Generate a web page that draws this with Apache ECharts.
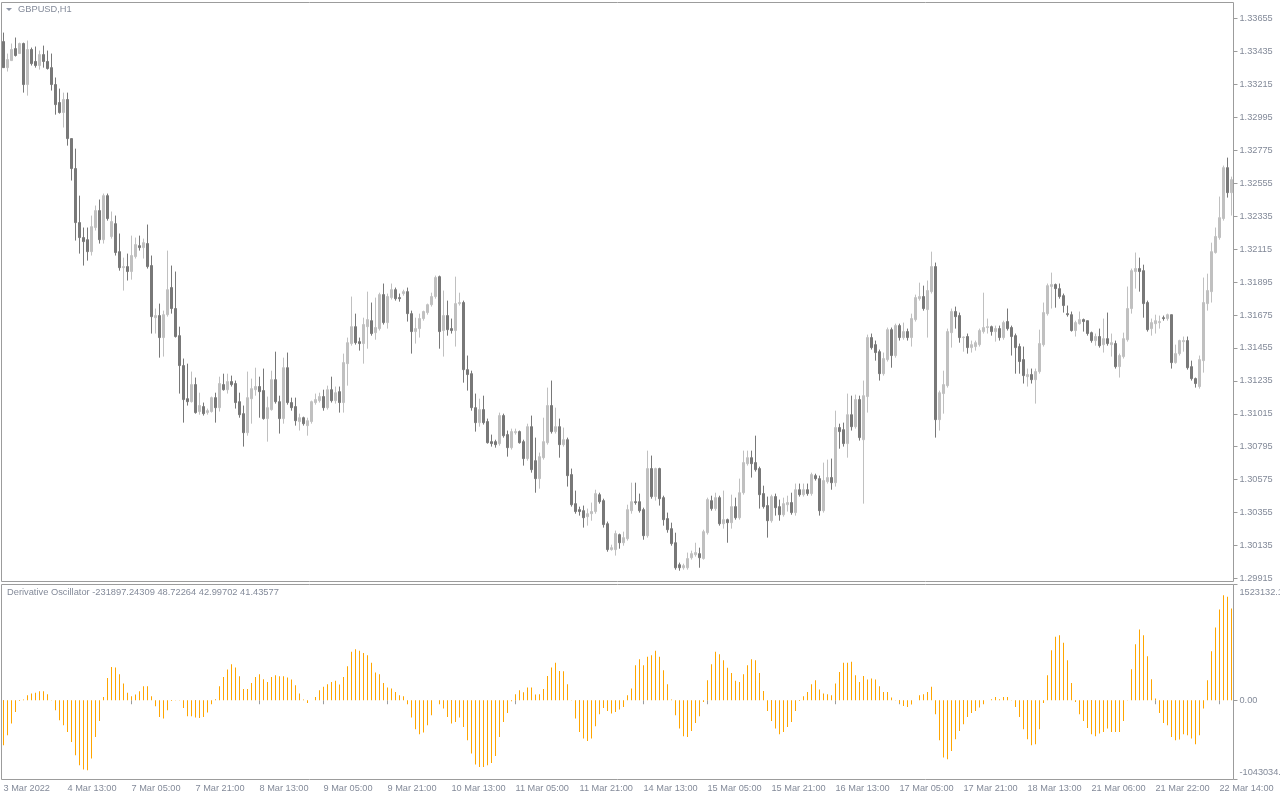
<!DOCTYPE html>
<html><head><meta charset="utf-8">
<script src="https://cdn.jsdelivr.net/npm/echarts@6/dist/echarts.min.js"></script>
<style>html,body{margin:0;padding:0;background:#fff;}#c{width:1280px;height:800px;}</style>
</head><body><div id="c"></div>
<script>
const symbolTitle = 'GBPUSD,H1';
const oscTitle = 'Derivative Oscillator -231897.24309 48.72264 42.99702 41.43577';
const tickLabels = ['3 Mar 2022','4 Mar 13:00','7 Mar 05:00','7 Mar 21:00','8 Mar 13:00','9 Mar 05:00','9 Mar 21:00','10 Mar 13:00','11 Mar 05:00','11 Mar 21:00','14 Mar 13:00','15 Mar 05:00','15 Mar 21:00','16 Mar 13:00','17 Mar 05:00','17 Mar 21:00','18 Mar 13:00','21 Mar 06:00','21 Mar 22:00','22 Mar 14:00'];
const priceTicks = [1.29915,1.30135,1.30355,1.30575,1.30795,1.31015,1.31235,1.31455,1.31675,1.31895,1.32115,1.32335,1.32555,1.32775,1.32995,1.33215,1.33435,1.33655];
const priceMin = 1.29895, priceMax = 1.33762;
const oscMin = -1043034.2, oscMax = 1523132.1;
const oscTicks = [oscMin, 0, oscMax];

const opens = [1.33501,1.33327,1.33374,1.33454,1.33421,1.33488,1.33214,1.33448,1.33368,1.33341,
1.33414,1.33368,1.33327,1.33214,1.33094,1.33027,1.33114,1.32853,1.32653,1.32292,
1.32192,1.32178,1.32098,1.32259,1.32372,1.32178,1.32472,1.32199,1.32285,1.32098,
1.31991,1.31998,1.31965,1.32065,1.32138,1.32125,1.32152,1.32005,1.31657,1.31671,
1.31524,1.31677,1.31858,1.31718,1.31537,1.31337,1.31116,1.31096,1.31210,1.31030,
1.31063,1.31023,1.31030,1.31123,1.31056,1.31210,1.31176,1.31230,1.31217,1.31096,
1.31016,1.30889,1.31116,1.31176,1.31197,1.31170,1.30983,1.31043,1.31243,1.31096,
1.30983,1.31323,1.31090,1.31063,1.30963,1.30989,1.30936,1.30963,1.31090,1.31103,
1.31130,1.31056,1.31176,1.31103,1.31163,1.31090,1.31350,1.31484,1.31597,1.31497,
1.31484,1.31597,1.31637,1.31557,1.31584,1.31811,1.31624,1.31791,1.31844,1.31791,
1.31818,1.31831,1.31684,1.31564,1.31584,1.31651,1.31691,1.31744,1.31798,1.31931,
1.31571,1.31671,1.31584,1.31571,1.31751,1.31758,1.31310,1.31283,1.31056,1.30956,
1.31043,1.30963,1.30829,1.30829,1.30816,1.31003,1.30876,1.30789,1.30889,1.30896,
1.30829,1.30716,1.30929,1.30702,1.30582,1.30722,1.30822,1.31070,1.30896,1.30929,
1.30809,1.30842,1.30609,1.30415,1.30375,1.30368,1.30328,1.30348,1.30362,1.30475,
1.30435,1.30281,1.30108,1.30108,1.30208,1.30154,1.30181,1.30368,1.30428,1.30428,
1.30375,1.30201,1.30649,1.30462,1.30649,1.30455,1.30315,1.30248,1.30154,1.30007,
1.29987,1.29987,1.30054,1.30074,1.30081,1.30048,1.30221,1.30435,1.30382,1.30455,
1.30281,1.30308,1.30288,1.30395,1.30321,1.30488,1.30682,1.30722,1.30689,1.30649,
1.30482,1.30402,1.30301,1.30462,1.30395,1.30341,1.30408,1.30422,1.30355,1.30508,
1.30475,1.30508,1.30482,1.30602,1.30582,1.30368,1.30562,1.30589,1.30555,1.30923,
1.30909,1.30816,1.31009,1.30929,1.31110,1.30842,1.31130,1.31524,1.31477,1.31430,
1.31283,1.31377,1.31577,1.31404,1.31604,1.31524,1.31564,1.31524,1.31644,1.31784,
1.31798,1.31711,1.31831,1.31998,1.30976,1.31150,1.31203,1.31557,1.31698,1.31671,
1.31524,1.31531,1.31457,1.31464,1.31477,1.31564,1.31591,1.31597,1.31564,1.31584,
1.31524,1.31631,1.31591,1.31537,1.31464,1.31377,1.31263,1.31277,1.31243,1.31297,
1.31477,1.31684,1.31865,1.31878,1.31851,1.31804,1.31684,1.31677,1.31571,1.31617,
1.31644,1.31637,1.31557,1.31504,1.31531,1.31477,1.31517,1.31477,1.31484,1.31330,
1.31397,1.31510,1.31718,1.31965,1.31985,1.31971,1.31758,1.31584,1.31617,1.31624,
1.31657,1.31651,1.31677,1.31357,1.31417,1.31497,1.31504,1.31330,1.31250,1.31197,
1.31370,1.31751,1.31831,1.32092,1.32192,1.32319,1.32659,1.32492];

const closes = [1.33327,1.33381,1.33448,1.33408,1.33488,1.33214,1.33448,1.33354,1.33341,1.33414,
1.33368,1.33321,1.33214,1.33080,1.33027,1.33114,1.32853,1.32653,1.32292,1.32192,
1.32165,1.32098,1.32265,1.32372,1.32178,1.32472,1.32319,1.32299,1.32092,1.31991,
1.31998,1.31965,1.32072,1.32145,1.32125,1.32158,1.31998,1.31664,1.31671,1.31524,
1.31677,1.31844,1.31718,1.31531,1.31337,1.31110,1.31096,1.31210,1.31023,1.31070,
1.31016,1.31036,1.31123,1.31056,1.31217,1.31176,1.31230,1.31210,1.31090,1.31009,
1.30889,1.31123,1.31183,1.31197,1.31163,1.30983,1.31056,1.31243,1.31096,1.30983,
1.31323,1.31090,1.31056,1.30969,1.30989,1.30949,1.30969,1.31096,1.31110,1.31130,
1.31056,1.31176,1.31103,1.31156,1.31090,1.31357,1.31490,1.31597,1.31490,1.31484,
1.31611,1.31644,1.31551,1.31591,1.31811,1.31624,1.31798,1.31844,1.31784,1.31784,
1.31831,1.31684,1.31564,1.31584,1.31651,1.31698,1.31744,1.31798,1.31925,1.31564,
1.31671,1.31577,1.31571,1.31751,1.31758,1.31310,1.31277,1.31056,1.30956,1.31043,
1.30956,1.30822,1.30816,1.30809,1.31003,1.30869,1.30789,1.30896,1.30896,1.30822,
1.30716,1.30929,1.30642,1.30582,1.30729,1.30829,1.31070,1.30896,1.30929,1.30809,
1.30842,1.30602,1.30408,1.30362,1.30362,1.30321,1.30348,1.30362,1.30482,1.30428,
1.30275,1.30108,1.30121,1.30215,1.30154,1.30188,1.30375,1.30428,1.30422,1.30368,
1.30201,1.30649,1.30462,1.30649,1.30448,1.30308,1.30241,1.30148,1.29987,1.29987,
1.30001,1.30048,1.30081,1.30088,1.30054,1.30228,1.30442,1.30382,1.30455,1.30281,
1.30308,1.30288,1.30395,1.30321,1.30488,1.30689,1.30722,1.30682,1.30642,1.30475,
1.30395,1.30301,1.30462,1.30388,1.30341,1.30415,1.30422,1.30355,1.30508,1.30475,
1.30508,1.30482,1.30609,1.30582,1.30368,1.30569,1.30589,1.30555,1.30923,1.30896,
1.30816,1.31009,1.30929,1.31110,1.30856,1.31136,1.31524,1.31457,1.31424,1.31283,
1.31384,1.31577,1.31404,1.31604,1.31524,1.31564,1.31524,1.31651,1.31791,1.31798,
1.31718,1.31838,1.31998,1.30976,1.31156,1.31210,1.31564,1.31698,1.31664,1.31524,
1.31528,1.31457,1.31477,1.31490,1.31571,1.31591,1.31597,1.31564,1.31584,1.31524,
1.31624,1.31584,1.31531,1.31457,1.31364,1.31270,1.31277,1.31243,1.31297,1.31484,
1.31691,1.31871,1.31878,1.31851,1.31798,1.31738,1.31677,1.31571,1.31624,1.31644,
1.31631,1.31551,1.31504,1.31531,1.31470,1.31517,1.31484,1.31490,1.31330,1.31404,
1.31517,1.31718,1.31971,1.31985,1.31965,1.31751,1.31577,1.31624,1.31637,1.31631,
1.31651,1.31677,1.31357,1.31417,1.31504,1.31504,1.31323,1.31250,1.31217,1.31377,
1.31758,1.31838,1.32098,1.32199,1.32325,1.32659,1.32492,1.32579];

const highs = [1.33561,1.33421,1.33488,1.33528,1.33494,1.33494,1.33508,1.33461,1.33468,1.33441,
1.33474,1.33441,1.33421,1.33261,1.33187,1.33160,1.33160,1.32853,1.32786,1.32472,
1.32259,1.32259,1.32339,1.32406,1.32446,1.32486,1.32486,1.32366,1.32339,1.32219,
1.32058,1.32085,1.32205,1.32192,1.32205,1.32185,1.32279,1.32072,1.31718,1.31751,
1.31704,1.32105,1.32005,1.31965,1.31597,1.31384,1.31350,1.31297,1.31257,1.31156,
1.31090,1.31050,1.31130,1.31156,1.31263,1.31283,1.31283,1.31270,1.31237,1.31156,
1.31070,1.31297,1.31250,1.31323,1.31263,1.31317,1.31130,1.31303,1.31430,1.31136,
1.31390,1.31424,1.31123,1.31123,1.31016,1.30996,1.30989,1.31103,1.31150,1.31156,
1.31176,1.31203,1.31263,1.31197,1.31197,1.31417,1.31524,1.31798,1.31684,1.31524,
1.31657,1.31831,1.31758,1.31791,1.31824,1.31885,1.31818,1.31885,1.31858,1.31818,
1.31844,1.31858,1.31704,1.31657,1.31684,1.31704,1.31751,1.31824,1.31938,1.31938,
1.31838,1.31771,1.31651,1.31931,1.31824,1.31771,1.31404,1.31303,1.31150,1.31116,
1.31136,1.30983,1.30876,1.30842,1.31023,1.31016,1.30903,1.30916,1.30916,1.30903,
1.30842,1.30949,1.31003,1.30856,1.30756,1.30989,1.31190,1.31237,1.31056,1.30983,
1.30923,1.30856,1.30649,1.30502,1.30395,1.30402,1.30382,1.30422,1.30508,1.30488,
1.30448,1.30295,1.30141,1.30235,1.30215,1.30228,1.30408,1.30555,1.30555,1.30482,
1.30388,1.30769,1.30736,1.30655,1.30655,1.30468,1.30355,1.30288,1.30221,1.30021,
1.30014,1.30088,1.30101,1.30154,1.30121,1.30241,1.30455,1.30468,1.30488,1.30468,
1.30502,1.30315,1.30475,1.30455,1.30582,1.30769,1.30769,1.30769,1.30869,1.30662,
1.30535,1.30462,1.30475,1.30482,1.30442,1.30455,1.30468,1.30488,1.30549,1.30549,
1.30549,1.30549,1.30622,1.30615,1.30602,1.30689,1.30709,1.30716,1.31036,1.30949,
1.30956,1.31150,1.31136,1.31143,1.31136,1.31237,1.31544,1.31551,1.31504,1.31444,
1.31424,1.31591,1.31591,1.31617,1.31617,1.31624,1.31584,1.31684,1.31811,1.31891,
1.31871,1.31905,1.32098,1.32025,1.31170,1.31303,1.31584,1.31718,1.31731,1.31691,
1.31531,1.31551,1.31504,1.31504,1.31584,1.31824,1.31651,1.31604,1.31604,1.31604,
1.31637,1.31718,1.31604,1.31551,1.31484,1.31464,1.31317,1.31317,1.31317,1.31577,
1.31758,1.31885,1.31958,1.31885,1.31885,1.31818,1.31738,1.31698,1.31637,1.31698,
1.31651,1.31637,1.31564,1.31551,1.31584,1.31651,1.31691,1.31551,1.31504,1.31417,
1.31557,1.31865,1.31985,1.32092,1.32058,1.32011,1.31771,1.31651,1.31677,1.31671,
1.31671,1.31684,1.31677,1.31477,1.31510,1.31531,1.31531,1.31370,1.31257,1.31404,
1.31925,1.31951,1.32158,1.32259,1.32466,1.32673,1.32726,1.32599];

const lows = [1.33327,1.33301,1.33374,1.33401,1.33421,1.33160,1.33140,1.33341,1.33327,1.33314,
1.33327,1.33314,1.33174,1.33013,1.33020,1.32927,1.32806,1.32573,1.32172,1.32085,
1.32005,1.32038,1.32072,1.32239,1.32152,1.32152,1.32305,1.32185,1.32072,1.31971,
1.31838,1.31905,1.31911,1.32052,1.32105,1.32052,1.31985,1.31551,1.31551,1.31390,
1.31397,1.31664,1.31684,1.31524,1.31150,1.30956,1.31070,1.31090,1.31016,1.31009,
1.31003,1.31009,1.31023,1.30956,1.31030,1.31170,1.31150,1.31197,1.31050,1.30989,
1.30796,1.30869,1.30949,1.31136,1.30989,1.30976,1.30829,1.31036,1.31083,1.30883,
1.30949,1.31076,1.31036,1.30936,1.30903,1.30936,1.30869,1.30949,1.31076,1.31090,
1.31036,1.31043,1.31090,1.31083,1.31023,1.31023,1.31203,1.31470,1.31477,1.31437,
1.31350,1.31450,1.31537,1.31510,1.31571,1.31611,1.31584,1.31778,1.31771,1.31764,
1.31804,1.31631,1.31417,1.31484,1.31524,1.31637,1.31677,1.31731,1.31784,1.31450,
1.31397,1.31537,1.31551,1.31464,1.31738,1.31223,1.31170,1.31036,1.30896,1.30929,
1.30943,1.30816,1.30796,1.30789,1.30802,1.30856,1.30729,1.30776,1.30876,1.30816,
1.30669,1.30702,1.30622,1.30488,1.30515,1.30709,1.30809,1.30883,1.30883,1.30722,
1.30796,1.30529,1.30395,1.30348,1.30335,1.30255,1.30268,1.30301,1.30348,1.30415,
1.30255,1.30094,1.30101,1.30068,1.30114,1.30134,1.30168,1.30348,1.30408,1.30355,
1.30174,1.30188,1.30448,1.30435,1.30402,1.30268,1.30221,1.30134,1.29974,1.29967,
1.29974,1.29974,1.30041,1.30061,1.29987,1.30041,1.30208,1.30368,1.30368,1.30268,
1.30248,1.30154,1.30248,1.30308,1.30308,1.30475,1.30669,1.30589,1.30629,1.30382,
1.30382,1.30188,1.30288,1.30335,1.30301,1.30328,1.30362,1.30341,1.30335,1.30462,
1.30462,1.30468,1.30468,1.30569,1.30335,1.30355,1.30549,1.30508,1.30529,1.30782,
1.30796,1.30722,1.30903,1.30916,1.30836,1.30415,1.31023,1.31444,1.31370,1.31237,
1.31270,1.31364,1.31323,1.31390,1.31504,1.31510,1.31504,1.31464,1.31631,1.31771,
1.31704,1.31524,1.31818,1.30856,1.30903,1.31016,1.31190,1.31457,1.31584,1.31490,
1.31430,1.31417,1.31424,1.31437,1.31464,1.31551,1.31551,1.31537,1.31497,1.31504,
1.31510,1.31571,1.31404,1.31283,1.31283,1.31217,1.31197,1.31217,1.31083,1.31283,
1.31464,1.31671,1.31718,1.31724,1.31784,1.31691,1.31664,1.31564,1.31531,1.31611,
1.31564,1.31537,1.31490,1.31470,1.31457,1.31424,1.31470,1.31397,1.31317,1.31257,
1.31384,1.31497,1.31684,1.31851,1.31831,1.31657,1.31564,1.31537,1.31551,1.31584,
1.31637,1.31637,1.31317,1.31350,1.31404,1.31430,1.31310,1.31237,1.31190,1.31183,
1.31290,1.31704,1.31758,1.32085,1.32178,1.32305,1.32459,1.32339];

const osc = [-593000,-461000,-307000,-154000,-9000,9000,66000,88000,97000,119000,
119000,79000,-2000,-132000,-263000,-329000,-417000,-549000,-724000,-856000,
-913000,-922000,-768000,-483000,-272000,44000,294000,439000,430000,342000,
220000,97000,53000,75000,119000,184000,184000,53000,-79000,-220000,
-241000,-132000,-9000,-4000,-2000,-101000,-211000,-211000,-228000,-233000,
-220000,-162000,-53000,13000,184000,307000,404000,474000,430000,316000,
149000,149000,228000,307000,342000,277000,241000,307000,329000,316000,
316000,299000,272000,198000,88000,9000,-35000,0,44000,132000,
176000,211000,241000,255000,206000,307000,448000,637000,672000,650000,
623000,593000,492000,364000,342000,228000,167000,154000,110000,66000,
53000,-53000,-228000,-382000,-448000,-426000,-329000,-198000,0,-53000,
-110000,-220000,-307000,-285000,-228000,-351000,-527000,-702000,-847000,-878000,
-878000,-856000,-825000,-733000,-483000,-285000,-167000,-13000,79000,132000,
105000,167000,167000,75000,79000,149000,320000,430000,492000,386000,
382000,211000,4000,-241000,-417000,-505000,-536000,-505000,-342000,-184000,
-101000,-140000,-176000,-154000,-123000,-88000,66000,154000,461000,540000,
461000,571000,593000,650000,571000,395000,211000,9000,-198000,-373000,
-474000,-483000,-404000,-299000,-211000,-22000,263000,474000,637000,606000,
527000,426000,360000,255000,241000,342000,461000,540000,527000,360000,
123000,-140000,-272000,-373000,-448000,-417000,-351000,-285000,-140000,-9000,
53000,110000,211000,263000,140000,88000,79000,66000,220000,373000,
492000,492000,505000,329000,241000,320000,272000,285000,272000,184000,
110000,110000,35000,4000,-35000,-75000,-88000,-57000,0,66000,
79000,110000,176000,-184000,-527000,-755000,-777000,-667000,-514000,-404000,
-316000,-220000,-167000,-140000,-97000,-53000,0,13000,44000,13000,
44000,44000,4000,-88000,-220000,-382000,-514000,-593000,-579000,-382000,
-35000,329000,659000,834000,856000,755000,527000,228000,-22000,-184000,
-272000,-364000,-448000,-474000,-439000,-417000,-373000,-417000,-417000,-417000,
-272000,4000,408000,738000,931000,856000,579000,277000,22000,-167000,
-299000,-329000,-483000,-527000,-518000,-448000,-461000,-505000,-579000,-461000,
-110000,263000,645000,957000,1194000,1383000,1361000,1207000];

const FONT = 'Liberation Sans';
const TXT = '#838a99';
const BORDER = '#9c9c9c';
const bars = opens.map((o, i) => String(i));
const candles = opens.map((o, i) => [o, closes[i], lows[i], highs[i]]);

const chart = echarts.init(document.getElementById('c'), null, {renderer: 'canvas'});
chart.setOption({
  animation: false,
  backgroundColor: '#ffffff',
  textStyle: {fontFamily: FONT},
  title: [
    {text: symbolTitle, left: 18, top: 5, padding: 0, textStyle: {fontSize: 9.3, fontWeight: 'normal', color: TXT, fontFamily: FONT}},
    {text: oscTitle, left: 7, top: 588, padding: 0, textStyle: {fontSize: 9.3, fontWeight: 'normal', color: TXT, fontFamily: FONT}}
  ],
  graphic: [
    {type: 'polygon', shape: {points: [[6, 8], [12, 8], [9, 11]]}, style: {fill: '#8e95a6'}}
  ],
  grid: [
    {left: 1.5, top: 2.5, right: 46.5, height: 579, show: true, borderColor: BORDER, borderWidth: 1, containLabel: false, outerBoundsMode: 'none'},
    {left: 1.5, top: 584.5, right: 46.5, height: 195, show: true, borderColor: BORDER, borderWidth: 1, containLabel: false, outerBoundsMode: 'none'}
  ],
  xAxis: [
    {type: 'category', gridIndex: 0, data: bars, boundaryGap: true,
     axisLine: {show: false}, axisTick: {show: false}, axisLabel: {show: false}, splitLine: {show: false}},
    {type: 'category', gridIndex: 1, data: bars, boundaryGap: true,
     axisLine: {show: false},
     axisTick: {show: true, interval: 15, alignWithLabel: true, length: 4, lineStyle: {color: BORDER}},
     axisLabel: {show: true, interval: 15, align: 'left', margin: 4, fontSize: 9.2, color: TXT, fontFamily: FONT,
       formatter: (v, idx) => (idx % 16 === 0 && tickLabels[idx / 16]) ? tickLabels[idx / 16] : ''},
     splitLine: {show: false}}
  ],
  yAxis: [
    {type: 'value', gridIndex: 0, position: 'right', min: priceMin, max: priceMax, scale: true,
     axisLine: {show: false}, splitLine: {show: false},
     axisTick: {show: true, length: 4, customValues: priceTicks, lineStyle: {color: BORDER}},
     axisLabel: {show: true, customValues: priceTicks, margin: 6, fontSize: 9.2, color: TXT, fontFamily: FONT,
       formatter: v => Number(v).toFixed(5)}},
    {type: 'value', gridIndex: 1, position: 'right', min: oscMin, max: oscMax,
     axisLine: {show: false}, splitLine: {show: false},
     axisTick: {show: true, length: 4, customValues: oscTicks, lineStyle: {color: BORDER}},
     axisLabel: {show: true, customValues: oscTicks, margin: 6, fontSize: 9.2, color: TXT, fontFamily: FONT,
       formatter: v => {
         if (v === 0) return '0.00';
         if (v > 0) return '{t|' + Number(v).toFixed(1) + '}';
         return '{b|' + Number(v).toFixed(1) + '}';
       },
       rich: {
         t: {fontSize: 9.2, color: TXT, fontFamily: FONT, padding: [15, 0, 0, 0]},
         b: {fontSize: 9.2, color: TXT, fontFamily: FONT, padding: [0, 0, 14, 0]}
       }}}
  ],
  series: [
    {type: 'candlestick', xAxisIndex: 0, yAxisIndex: 0, data: candles, barWidth: 2,
     itemStyle: {color: '#c0c0c0', color0: '#787878', borderColor: '#c0c0c0', borderColor0: '#787878', borderWidth: 1}},
    {type: 'bar', xAxisIndex: 1, yAxisIndex: 1, data: osc, barWidth: 1,
     itemStyle: {color: '#ffa500'}}
  ]
});
</script>
</body></html>
